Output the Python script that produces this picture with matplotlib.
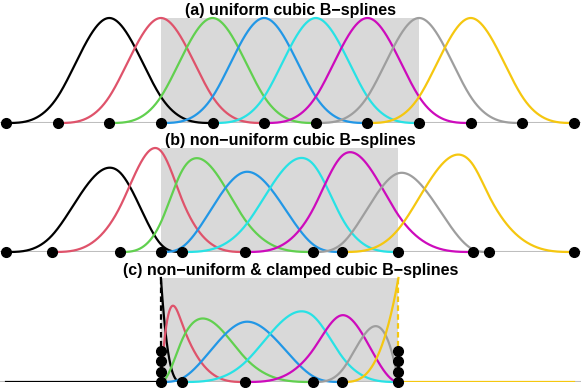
import numpy as np
import matplotlib.pyplot as plt

# knot vectors (x positions)
knots_a = [0, 1, 2, 3, 4, 5, 6, 7, 8, 9, 10, 11]
knots_b = [0, 0.89, 2.21, 3, 3.41, 4.63, 5.95, 6.51, 7.6, 9.04, 9.35, 11]
knots_c = [3, 3, 3, 3, 3.41, 4.63, 5.95, 6.51, 7.6, 7.6, 7.6, 7.6]
titles = ["(a) uniform cubic B\u2212splines",
          "(b) non\u2212uniform cubic B\u2212splines",
          "(c) non\u2212uniform & clamped cubic B\u2212splines"]
colors = ["black", "#DF536B", "#61D04F", "#2297E6",
          "#28E2E5", "#CD0BBC", "#9E9E9E", "#F5C710"]
x_range = (0, 11)
degree = 3

plt.rcParams['font.family'] = ['Liberation Sans', 'DejaVu Sans']


def basis(t, i, k, x):
    # Cox-de Boor recursion
    if k == 0:
        return np.where((x >= t[i]) & (x < t[i + 1]), 1.0, 0.0)
    out = np.zeros_like(x)
    d1 = t[i + k] - t[i]
    if d1 > 0:
        out += (x - t[i]) / d1 * basis(t, i, k - 1, x)
    d2 = t[i + k + 1] - t[i + 1]
    if d2 > 0:
        out += (t[i + k + 1] - x) / d2 * basis(t, i + 1, k - 1, x)
    return out


fig = plt.figure(figsize=(5.81, 3.88), dpi=100)
W, H = 581, 388
px_per_unit = 568 / 11
xlim = (-6 / px_per_unit, 11 + 7 / px_per_unit)
# (baseline px, top px, title baseline px)
rows = [(123, 18, 15), (252, 148, 145), (382, 278, 275)]

for knots, title, (base, top, ty) in zip([knots_a, knots_b, knots_c], titles, rows):
    ax = fig.add_axes([0, 1 - base / H, 1, (base - top) / H])
    ax.axis("off")
    ax.set_xlim(*xlim)
    t = np.array(knots, dtype=float)
    nb = len(t) - degree - 1
    curves = []
    for i in range(nb):
        xs = np.linspace(t[i], t[i + degree + 1] - 1e-9, 400)
        curves.append((xs, basis(t, i, degree, xs)))
    ymax = max(c[1].max() for c in curves)
    ax.set_ylim(0, ymax)

    lo, hi = t[degree], t[nb]
    ax.fill_between([lo, hi], 0, ymax, color="#D9D9D9", lw=0, zorder=0)
    ax.axhline(0, color="#BEBEBE", lw=1.5, zorder=1)

    for (xs, ys), col in zip(curves, colors):
        ax.plot(xs, ys, color=col, lw=1.6, zorder=2, clip_on=False)

    if knots is knots_c:
        ax.plot([x_range[0], lo], [0, 0], color=colors[0], lw=1.6, zorder=2)
        ax.plot([lo, lo], [0, 1], color=colors[0], lw=1.6, ls=(0, (2.5, 1.5)), zorder=2)
        ax.plot([hi, hi], [0, 1], color=colors[-1], lw=1.6, ls=(0, (2.5, 1.5)), zorder=2)
        ax.plot([hi, x_range[1]], [0, 0], color=colors[-1], lw=1.6, zorder=2)

    # knots, repeated ones stacked upward
    seen = {}
    kx, ky = [], []
    for k in knots:
        n = seen.get(k, 0)
        seen[k] = n + 1
        kx.append(k)
        ky.append(0.1 * n)
    ax.plot(kx, ky, "o", color="black", ms=7, zorder=4, clip_on=False)

    fig.text(0.5, 1 - ty / H, title, ha="center", va="baseline",
             fontsize=11.5, fontweight="bold")

fig.savefig("out.png", dpi=100)
